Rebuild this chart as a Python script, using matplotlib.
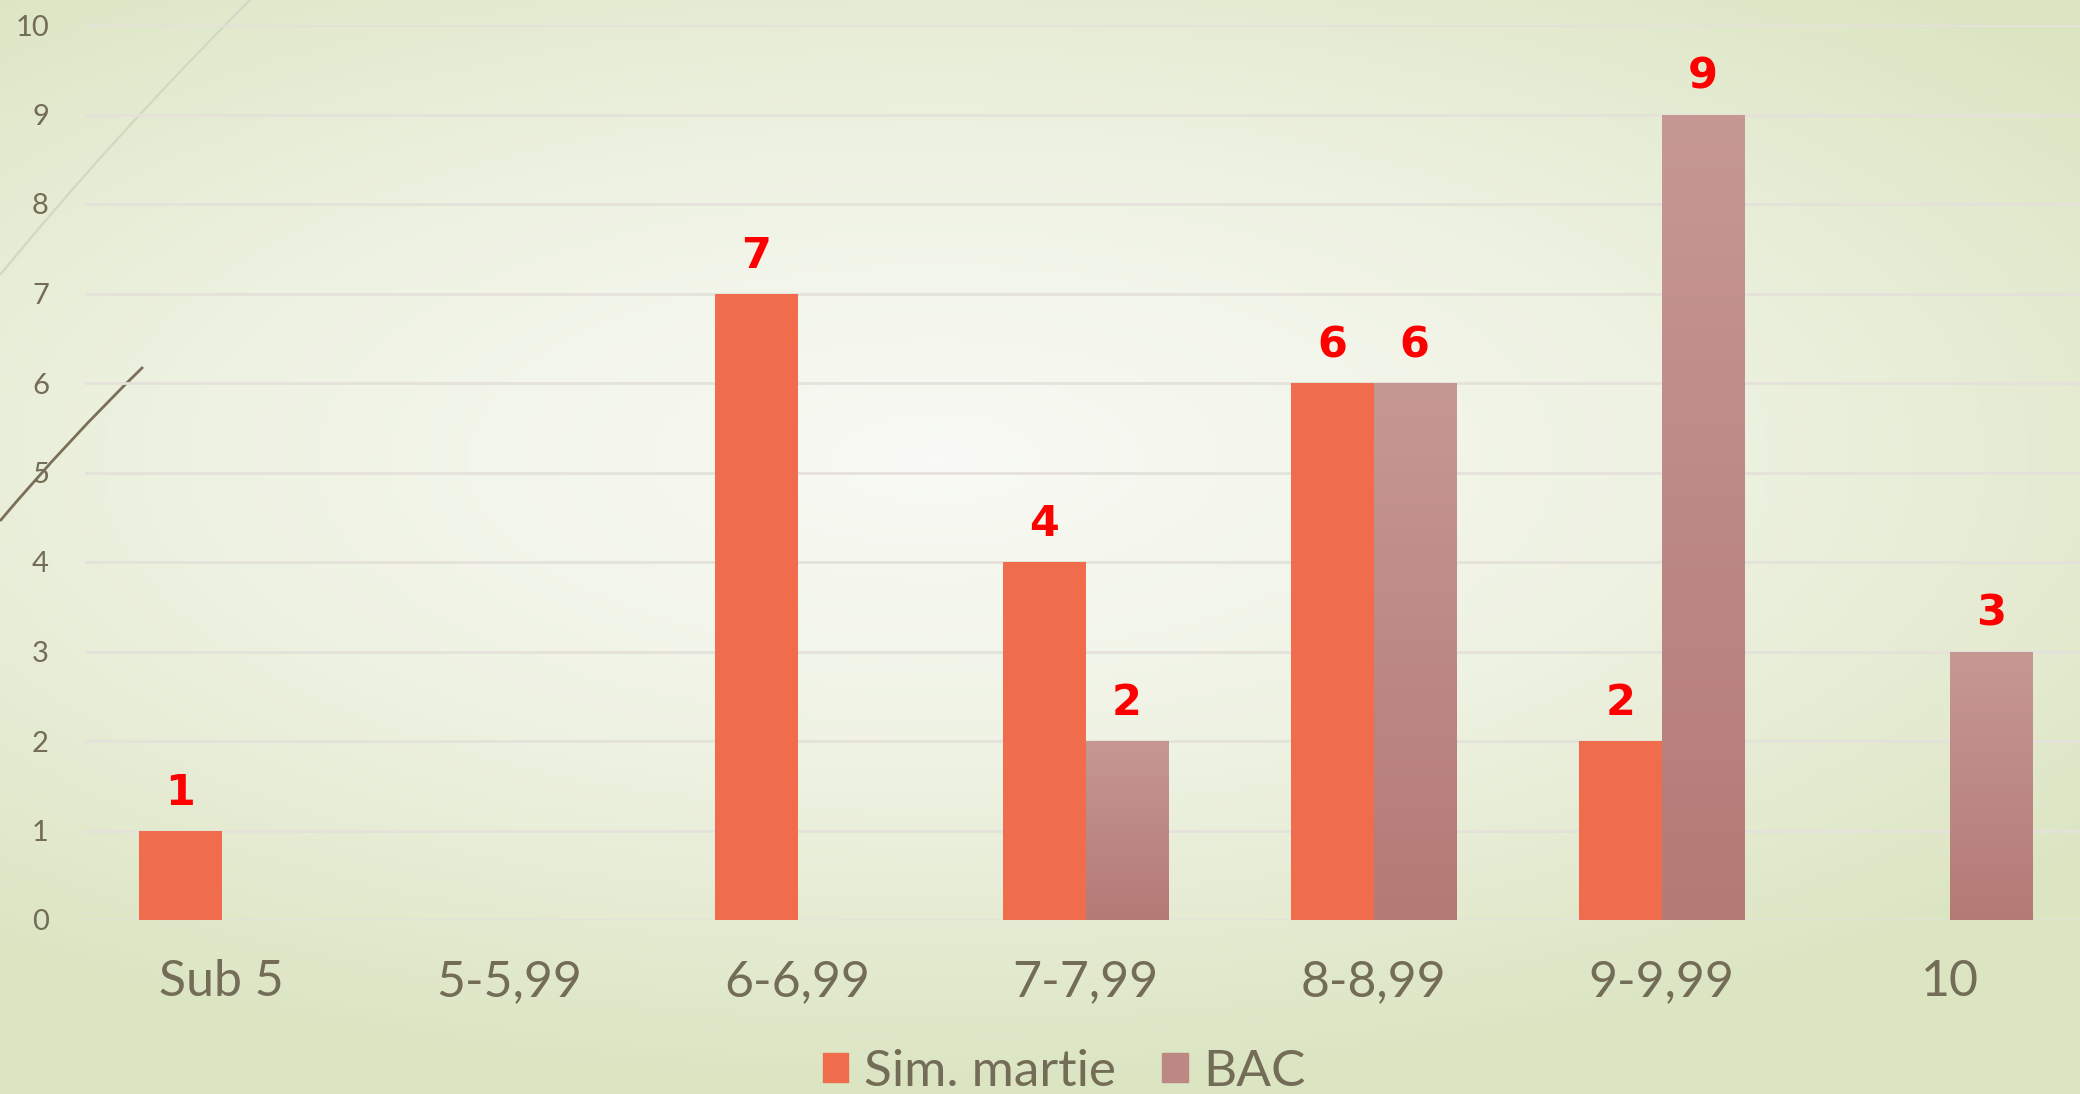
import numpy as np
import matplotlib.pyplot as plt
from matplotlib.path import Path
from matplotlib.patches import Patch, PathPatch
from matplotlib.colors import LinearSegmentedColormap

categories = ['Sub 5', '5-5,99', '6-6,99', '7-7,99', '8-8,99', '9-9,99', '10']
sim_martie = [1, 0, 7, 4, 6, 2, 0]
bac = [0, 0, 0, 2, 6, 9, 3]
y_ticks = list(range(0, 11))

plt.rcParams['font.family'] = ['Lato', 'DejaVu Sans']
text_col = '#736c56'
sim_col = '#ef6d4c'
bac_top, bac_bot = '#c69894', '#b47a76'

W, H = 2080, 1094
fig = plt.figure(figsize=(W / 100, H / 100), dpi=100)

# soft radial background
bg = fig.add_axes([0, 0, 1, 1], zorder=-10)
yy, xx = np.mgrid[0:1:300j, 0:1:560j]
d = np.sqrt(((xx - 0.45) / 1.0) ** 2 + ((yy - 0.42) / 0.8) ** 2)
d = np.clip(d / 0.72, 0, 1)
bg_cmap = LinearSegmentedColormap.from_list('bg', ['#f9faf5', '#eef2e2', '#dce5c2'])
bg.imshow(d, cmap=bg_cmap, aspect='auto', extent=[0, 1, 0, 1], origin='upper')
bg.axis('off')


# decorative curves top left (pixel coords -> figure fraction)
def deco(pts, **kw):
    verts = [(px / W, 1 - py / H) for px, py in pts]
    path = Path(verts, [Path.MOVETO, Path.CURVE3, Path.CURVE3])
    fig.add_artist(PathPatch(path, fill=False, transform=fig.transFigure, zorder=-5, **kw))


deco([(0, 275), (112, 138), (250, 0)], edgecolor='#d3d7c4', lw=1.6)
deco([(0, 521), (68, 440), (143, 367)], edgecolor='#7a7058', lw=2)

left, right = 85, 2080
top, bottom = 25, 920
ax = fig.add_axes([left / W, 1 - bottom / H, (right - left) / W, (bottom - top) / H])
ax.patch.set_alpha(0)

x = np.arange(len(categories))
w = 0.285
sim_bars = ax.bar(x - w / 2, sim_martie, w, color=sim_col, zorder=2, label='Sim. martie')
bac_bars = ax.bar(x + w / 2, bac, w, color='none', zorder=2, label='BAC')

grad = LinearSegmentedColormap.from_list('bac', [bac_bot, bac_top])
for p in bac_bars:
    if p.get_height() > 0:
        x0, y0 = p.get_x(), p.get_y()
        im = ax.imshow(np.linspace(0, 1, 200).reshape(-1, 1), cmap=grad, origin='lower',
                       extent=[x0, x0 + p.get_width(), y0, y0 + p.get_height()],
                       aspect='auto', zorder=2)
        im.set_clip_path(p)

for bars in (sim_bars, bac_bars):
    for p in bars:
        h = p.get_height()
        if h > 0:
            ax.annotate(str(int(h)), (p.get_x() + p.get_width() / 2, h),
                        xytext=(0, 12), textcoords='offset points',
                        ha='center', va='bottom', color='#ff0000',
                        fontsize=31, fontweight='heavy', family=['DejaVu Sans'])

ax.set_xlim(-0.474, 6.453)
ax.set_ylim(0, 10)
ax.set_yticks(y_ticks)
ax.set_xticks(x)
ax.set_xticklabels(categories)
ax.tick_params(axis='y', length=0, pad=26, labelsize=21, labelcolor=text_col)
ax.tick_params(axis='x', length=0, pad=28, labelsize=36, labelcolor=text_col)
ax.grid(axis='y', color='#e4e2da', lw=2)
ax.set_axisbelow(True)
for s in ax.spines.values():
    s.set_visible(False)

handles = [Patch(color=sim_col), Patch(color='#bd8784')]
fig.legend(handles, ['Sim. martie', 'BAC'], loc='center', bbox_to_anchor=(1064 / W, 1 - 1072 / H),
           ncol=2, frameon=False, fontsize=37, labelcolor=text_col,
           handlelength=0.5, handleheight=0.5, handletextpad=0.3, columnspacing=0.9)

fig.savefig('out.png', dpi=100)
